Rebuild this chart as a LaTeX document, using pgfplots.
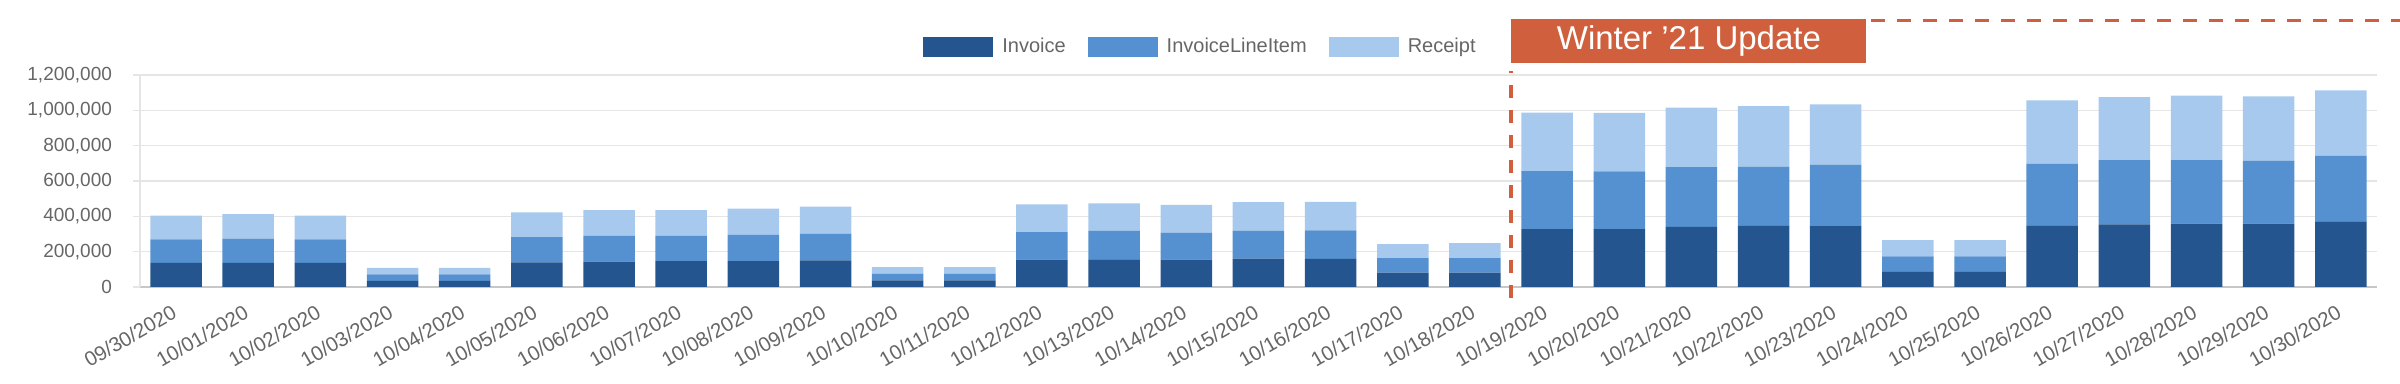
\documentclass[border=0pt]{standalone}
\usepackage{pgfplots}
\pgfplotsset{compat=1.18}
\usepackage{fontspec}
\setmainfont{Liberation Sans}
\definecolor{cInv}{HTML}{25558F}
\definecolor{cILI}{HTML}{5591D0}
\definecolor{cRec}{HTML}{A6C9ED}
\definecolor{cWin}{HTML}{D0603D}
\definecolor{cTxt}{HTML}{666666}
\begin{document}
\begin{tikzpicture}
\path[use as bounding box] (-70pt,-48.5pt) rectangle (1130pt,143.5pt);
\begin{axis}[
  scale only axis,
  width=1118.5pt, height=106pt,
  ybar stacked, bar width=25.75pt,
  xmin=-0.5, xmax=30.5, ymin=0, ymax=1200000,
  clip=false,
  xtick={0,...,30},
  xticklabels={09/30/2020,10/01/2020,10/02/2020,10/03/2020,10/04/2020,10/05/2020,10/06/2020,10/07/2020,10/08/2020,10/09/2020,10/10/2020,10/11/2020,10/12/2020,10/13/2020,10/14/2020,10/15/2020,10/16/2020,10/17/2020,10/18/2020,10/19/2020,10/20/2020,10/21/2020,10/22/2020,10/23/2020,10/24/2020,10/25/2020,10/26/2020,10/27/2020,10/28/2020,10/29/2020,10/30/2020},
  xticklabel style={xshift=-2.7pt, yshift=-4.8pt, rotate=30, anchor=north east, inner sep=0pt, font=\fontsize{10.2}{12}\selectfont, text=cTxt},
  xtick style={draw=none},
  ytick={0,200000,400000,600000,800000,1000000,1200000},
  scaled y ticks=false,
  yticklabel style={font=\fontsize{9.5}{12}\selectfont, text=cTxt, /pgf/number format/.cd, fixed, 1000 sep={,}, assume math mode=true},
  yticklabel shift=7pt,
  tick align=outside, major tick length=3.5pt,
  ytick style={draw=black!10, line width=0.6pt},
  ymajorgrids, major grid style={draw=black!10, line width=0.6pt},
  axis x line*=bottom, axis y line*=left,
  x axis line style={-, draw=black!22, line width=1pt},
  y axis line style={-, draw=black!10, line width=0.6pt},
  legend columns=3,
  legend style={at={(rel axis cs:0.350,1.132)}, anchor=west, draw=none, fill=none, inner sep=0pt,
    font=\fontsize{10}{12}\selectfont, text=cTxt,
    /tikz/every even column/.append style={column sep=6.5pt},
    nodes={inner ysep=2pt, inner xsep=4.5pt}},
  legend image code/.code={\fill[#1,draw=none] (0pt,-5pt) rectangle (35pt,5pt);},
]
\addplot[fill=cInv, draw=none] coordinates {
(0,136000)(1,136000)(2,136000)(3,34000)(4,34000)(5,140000)(6,144000)(7,146000)(8,146000)(9,151000)
(10,38000)(11,38000)(12,155000)(13,157000)(14,155000)(15,161000)(16,159000)(17,81000)(18,81000)
(19,327000)(20,327000)(21,340000)(22,346000)(23,344000)(24,85000)(25,85000)(26,346000)(27,355000)
(28,359000)(29,359000)(30,372000)};
\addplot[fill=cILI, draw=none] coordinates {
(0,134000)(1,138000)(2,134000)(3,38000)(4,38000)(5,142000)(6,147000)(7,145000)(8,149000)(9,151000)
(10,38000)(11,38000)(12,155000)(13,161000)(14,153000)(15,158000)(16,162000)(17,82000)(18,83000)
(19,329000)(20,327000)(21,339000)(22,336000)(23,348000)(24,89000)(25,89000)(26,353000)(27,363000)
(28,359000)(29,357000)(30,371000)};
\addplot[fill=cRec, draw=none] coordinates {
(0,134000)(1,138000)(2,134000)(3,36000)(4,36000)(5,141000)(6,144000)(7,144000)(8,149000)(9,153000)
(10,37000)(11,37000)(12,157000)(13,156000)(14,157000)(15,161000)(16,161000)(17,79000)(18,84000)
(19,331000)(20,331000)(21,336000)(22,342000)(23,342000)(24,91000)(25,91000)(26,358000)(27,357000)
(28,365000)(29,363000)(30,370000)};
\legend{Invoice,InvoiceLineItem,Receipt}
% annotation
\draw[cWin, line width=1.6pt, dash pattern=on 6.5pt off 6pt] (axis cs:18.5,-62000) -- (axis cs:18.5,1220000);
\node[fill=cWin, anchor=south west, minimum width=177.5pt, minimum height=22pt, inner sep=0pt,
  text=white, font=\fontsize{16.5}{18}\selectfont] at (axis cs:18.5,1267900) {Winter ’21 Update};
\draw[cWin, line width=1.6pt, dash pattern=on 7pt off 6pt] (axis cs:23.49,1508000) -- ++(270pt,0);
\end{axis}
\end{tikzpicture}
\end{document}
